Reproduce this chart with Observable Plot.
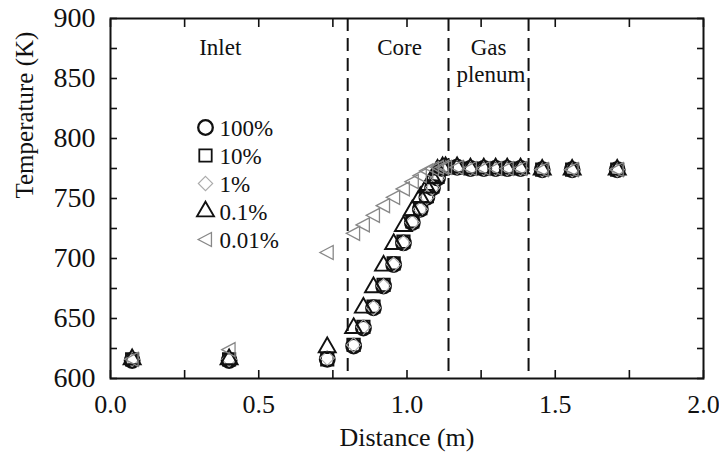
<!DOCTYPE html>
<html>
<head>
<meta charset="utf-8">
<script src="https://cdn.jsdelivr.net/npm/d3@7"></script>
<script src="https://cdn.jsdelivr.net/npm/@observablehq/plot@0.6"></script>
<style>
  html, body { margin: 0; padding: 0; background: #fff; }
  #chart { width: 719px; height: 454px; }
</style>
</head>
<body>
<div id="chart"></div>
<script>
// Axial temperature profiles for several flow fractions
const seriesNames = ["100%", "10%", "1%", "0.1%", "0.01%"];

// Node positions along the channel (m)
const inletX  = [0.073, 0.40, 0.731];
const coreX   = [0.82, 0.853, 0.887, 0.921, 0.955, 0.988, 1.018, 1.045, 1.067, 1.086, 1.103, 1.12];
const plenumX = [1.13, 1.169, 1.214, 1.259, 1.299, 1.338, 1.383, 1.456, 1.557, 1.709];

// Temperatures (K) at inlet, core and plenum/outlet nodes for each series
const temp100  = [615, 615, 616,  627, 642, 659, 677, 695, 713, 730, 741, 751, 759, 767, 775,  776, 776, 775, 775, 775, 775, 775, 774, 774, 774];
const temp10   = [616, 616, 616,  628, 643, 660, 678, 696, 714, 731, 742, 752, 760, 768, 775,  776, 776, 775, 775, 775, 775, 775, 774, 774, 774];
const temp1    = [616, 616, 617,  628, 643, 659, 677, 695, 713, 730, 741, 751, 759, 767, 775,  776, 776, 775, 775, 775, 775, 775, 774, 774, 774];
const temp01   = [616, 616, 626,  642, 659, 676, 694, 712, 727, 740, 751, 759, 767, 774, 776,  776, 776, 775, 775, 775, 775, 775, 774, 774, 774];
const temp001  = [616, 624, 705,  721, 728, 736, 744, 751, 758, 764, 769, 773, 775, 776, 776,  776, 776, 775, 775, 775, 775, 775, 774, 774, 774];

// Region boundaries (m) and region labels
const boundaries = [0.8, 1.14, 1.41];
const regionLabels = [
  {text: "Inlet",  x: 0.37,  y: 876},
  {text: "Core",   x: 0.975, y: 876},
  {text: "Gas",    x: 1.275, y: 876},
  {text: "plenum", x: 1.283, y: 853}
];

// Axis ticks
const xTickLabels = [0, 0.5, 1, 1.5, 2];
const xTicks = [0, 0.25, 0.5, 0.75, 1, 1.25, 1.5, 1.75, 2];
const yTickLabels = [600, 650, 700, 750, 800, 850, 900];
const yTicks = [600, 625, 650, 675, 700, 725, 750, 775, 800, 825, 850, 875, 900];

const positions = [...inletX, ...coreX, ...plenumX];
const seriesTemps = [temp100, temp10, temp1, temp01, temp001];

// Left-pointing triangle symbol
const triangleLeft = {
  draw(context, size) {
    const r = Math.sqrt(size / Math.PI);
    context.moveTo(-r * 1.05, 0);
    context.lineTo(r * 0.85, -r * 1.0);
    context.lineTo(r * 0.85, r * 1.0);
    context.closePath();
  }
};

const styles = [
  {symbol: "circle",   r: 7.3, stroke: "#111", strokeWidth: 2.3},
  {symbol: "square",   r: 7,   stroke: "#111", strokeWidth: 1.8},
  {symbol: "diamond2", r: 6.5, stroke: "#aaa", strokeWidth: 1.1},
  {symbol: "triangle", r: 6.3, stroke: "#111", strokeWidth: 1.9},
  {symbol: triangleLeft, r: 7, stroke: "#888", strokeWidth: 1.3}
];

const rows = seriesNames.map((name, i) =>
  positions.map((x, j) => ({series: name, x, t: seriesTemps[i][j]}))
);

const font = "'Liberation Serif', 'Times New Roman', Times, serif";

const marks = [
  Plot.frame({stroke: "#111", strokeWidth: 2}),
  Plot.ruleX(boundaries, {stroke: "#111", strokeWidth: 2, strokeDasharray: "13,7"}),
  // tick marks pointing into the frame on all four sides
  Plot.axisX(xTicks, {anchor: "bottom", tickSize: 8, dy: -8, fill: "none", label: null, strokeWidth: 1.6}),
  Plot.axisX(xTicks, {anchor: "top", tickSize: 8, dy: 8, fill: "none", label: null, strokeWidth: 1.6}),
  Plot.axisY(yTicks, {anchor: "left", tickSize: 7, dx: 7, fill: "none", label: null, strokeWidth: 1.6}),
  Plot.axisY(yTicks, {anchor: "right", tickSize: 7, dx: -7, fill: "none", label: null, strokeWidth: 1.6}),
  // tick labels
  Plot.axisX(xTickLabels, {anchor: "bottom", tickSize: 0, tickPadding: 16, tickFormat: d3.format(".1f"), label: null, fontSize: 26, fontFamily: font}),
  Plot.axisY(yTickLabels, {anchor: "left", tickSize: 0, tickPadding: 15, label: null, fontSize: 28, fontFamily: font}),
  // axis titles
  Plot.text(["Distance (m)"], {frameAnchor: "bottom", dy: 59, lineAnchor: "middle", fontSize: 26, fill: "#111"}),
  Plot.text(["Temperature (K)"], {frameAnchor: "left", dx: -86, rotate: -90, fontSize: 25, fill: "#111"}),
  // region labels
  Plot.text(regionLabels, {x: "x", y: "y", text: "text", fontSize: 23, fill: "#111"}),
  // data
  ...rows.map((data, i) => Plot.dot(data, {x: "x", y: "t", fill: "none", ...styles[i]})),
  // legend
  ...seriesNames.flatMap((name, i) => [
    Plot.dot([name], {frameAnchor: "top-left", dx: 95, dy: 109 + 28 * i, fill: "none", ...styles[i]}),
    Plot.text([name], {frameAnchor: "top-left", dx: 109, dy: 110 + 28 * i, lineAnchor: "middle", textAnchor: "start", fontSize: 23, fill: "#111"})
  ])
];

const chart = Plot.plot({
  width: 719,
  height: 454,
  marginLeft: 110,
  marginRight: 16,
  marginTop: 18,
  marginBottom: 76,
  x: {domain: [0, 2]},
  y: {domain: [600, 900]},
  style: {fontFamily: font, fontSize: "24px", background: "white", color: "#111"},
  marks
});

document.getElementById("chart").append(chart);
</script>
</body>
</html>
